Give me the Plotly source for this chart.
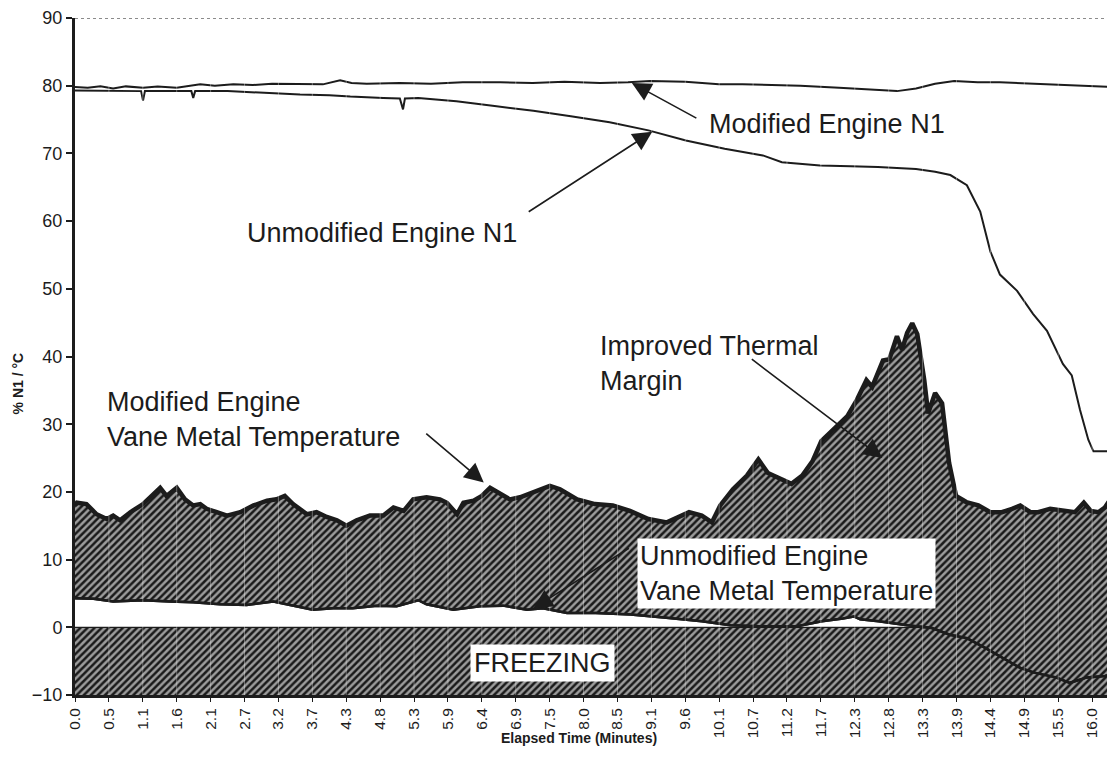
import plotly.graph_objects as go

# ---------------- data ----------------
TICK_LABELS = ["0.0", "0.5", "1.1", "1.6", "2.1", "2.7", "3.2", "3.7", "4.3", "4.8",
               "5.3", "5.9", "6.4", "6.9", "7.5", "8.0", "8.5", "9.1", "9.6", "10.1",
               "10.7", "11.2", "11.7", "12.3", "12.8", "13.3", "13.9", "14.4", "14.9",
               "15.5", "16.0"]
TICK_STEP = 16.0 / 30  # minutes between labelled categories
X_END = 16.36

TIME_MOD_N1 = [0, 0.2, 0.4, 0.6, 0.8, 1.07, 1.3, 1.6, 1.97, 2.2, 2.49, 2.8, 3.1, 3.54,
               3.9, 4.17, 4.35, 4.59, 5.11, 5.6, 6.1, 6.69, 7.2, 7.7, 8.26, 8.7, 9.05,
               9.6, 10.13, 10.5, 10.82, 11.1, 11.41, 12.02, 12.51, 12.93, 13.23, 13.53,
               13.83, 14.2, 14.55, 15.0, 15.34, 15.8, 16.36]
MOD_N1 = [79.8, 79.7, 79.9, 79.6, 79.9, 79.7, 79.9, 79.7, 80.2, 80.0, 80.2, 80.1, 80.3,
          80.3, 80.2, 80.8, 80.4, 80.3, 80.4, 80.3, 80.5, 80.5, 80.4, 80.6, 80.4, 80.5,
          80.7, 80.6, 80.2, 80.2, 80.1, 80.1, 80.0, 79.7, 79.4, 79.2, 79.6, 80.3, 80.7,
          80.5, 80.5, 80.3, 80.2, 80.0, 79.8]

TIME_UNMOD_N1 = [0, 0.5, 1.04, 1.07, 1.10, 1.5, 1.83, 1.86, 1.89, 2.4, 3.02, 3.54, 4.0,
                 4.33, 4.85, 5.11, 5.16, 5.19, 5.4, 6.0, 6.6, 7.21, 7.8, 8.41, 9.02,
                 9.61, 10.22, 10.82, 11.12, 11.72, 12.2, 12.63, 13.23, 13.53, 13.77,
                 14.03, 14.24, 14.40, 14.55, 14.82, 15.07, 15.29, 15.54, 15.68, 15.81,
                 15.94, 16.02, 16.32, 16.34]
UNMOD_N1 = [79.3, 79.2, 79.2, 77.8, 79.2, 79.2, 79.2, 78.2, 79.2, 79.2, 78.9, 78.7, 78.6,
            78.4, 78.2, 78.1, 76.5, 78.1, 78.2, 77.7, 77.0, 76.3, 75.5, 74.6, 73.4, 71.9,
            70.7, 69.7, 68.7, 68.2, 68.1, 68.0, 67.7, 67.3, 66.8, 65.3, 61.4, 55.5, 52.1,
            49.7, 46.3, 43.8, 38.9, 37.2, 32.1, 27.7, 26.0, 26.0, 18.0]

TIME_MOD_VANE = [0.0, 0.03, 0.18, 0.34, 0.50, 0.60, 0.71, 0.87, 1.07, 1.21, 1.34, 1.44,
                 1.60, 1.73, 1.86, 1.97, 2.07, 2.23, 2.39, 2.60, 2.81, 3.02, 3.17, 3.30,
                 3.43, 3.65, 3.80, 3.96, 4.12, 4.27, 4.43, 4.64, 4.85, 5.01, 5.17, 5.32,
                 5.53, 5.74, 5.85, 6.01, 6.11, 6.27, 6.40, 6.53, 6.69, 6.84, 7.00, 7.21,
                 7.47, 7.63, 7.90, 8.18, 8.46, 8.73, 9.02, 9.31, 9.66, 9.86, 10.02, 10.15,
                 10.35, 10.57, 10.75, 10.90, 11.11, 11.27, 11.44, 11.60, 11.74, 11.99,
                 12.15, 12.30, 12.45, 12.54, 12.71, 12.81, 12.93, 13.01, 13.09, 13.17,
                 13.25, 13.36, 13.42, 13.53, 13.64, 13.75, 13.86, 14.02, 14.21, 14.40,
                 14.58, 14.74, 14.87, 15.03, 15.15, 15.34, 15.54, 15.73, 15.87, 15.98,
                 16.10, 16.20, 16.36]
MOD_VANE = [18.0, 18.4, 18.2, 16.7, 16.0, 16.5, 15.8, 17.0, 18.2, 19.4, 20.6, 19.4, 20.6,
            18.9, 18.0, 18.2, 17.5, 17.0, 16.5, 17.0, 18.0, 18.7, 18.9, 19.4, 18.2, 16.7,
            17.0, 16.3, 15.8, 15.0, 15.8, 16.5, 16.5, 17.7, 17.2, 18.9, 19.2, 18.9, 18.4,
            16.7, 18.4, 18.7, 19.4, 20.6, 19.7, 18.9, 19.2, 19.9, 20.9, 20.4, 18.9, 18.2,
            18.0, 17.2, 16.0, 15.5, 17.0, 16.5, 15.5, 18.0, 20.4, 22.4, 24.8, 22.8, 21.9,
            21.2, 22.4, 24.5, 27.5, 29.7, 31.2, 33.6, 36.5, 35.5, 39.4, 39.6, 43.0, 41.0,
            43.5, 44.9, 43.3, 36.5, 31.6, 34.6, 33.1, 24.3, 19.4, 18.5, 18.0, 17.0, 17.0,
            17.5, 18.0, 17.0, 17.0, 17.5, 17.2, 17.0, 18.4, 17.2, 17.0, 17.7, 19.9]

TIME_UNMOD_VANE = [0.0, 0.29, 0.60, 1.07, 1.49, 1.86, 2.28, 2.70, 3.12, 3.43, 3.74, 4.06,
                   4.37, 4.75, 5.06, 5.40, 5.53, 5.95, 6.37, 6.73, 7.11, 7.36, 7.74, 8.19,
                   8.74, 9.30, 9.86, 10.31, 10.75, 11.36, 11.75, 12.08, 12.25, 12.35,
                   12.64, 13.09, 13.48, 13.76, 14.03, 14.31, 14.59, 14.87, 15.09, 15.43,
                   15.65, 15.92, 16.20, 16.36]
UNMOD_VANE = [4.3, 4.2, 3.8, 4.0, 3.8, 3.7, 3.4, 3.3, 3.8, 3.2, 2.6, 2.8, 2.8, 3.2, 3.1,
              4.0, 3.4, 2.6, 3.1, 3.2, 2.6, 2.8, 2.1, 2.1, 1.9, 1.4, 0.9, 0.3, 0.15, 0.15,
              0.9, 1.3, 1.6, 1.2, 0.9, 0.3, -0.1, -1.1, -1.6, -3.0, -4.5, -6.0, -6.7,
              -7.4, -8.2, -7.4, -7.2, -6.9]

FREEZE_TOP = 0
FREEZE_BOTTOM = -10

# ---------------- styling ----------------
INK = "#1c1c1c"
FONT = "Liberation Sans, Arial, sans-serif"
HATCH = dict(shape="/", bgcolor="#9c9c9c", fgcolor="#1a1a1a", size=5, solidity=0.5,
             fillmode="replace")

fig = go.Figure()

# freezing band (-10 .. 0)
fig.add_trace(go.Scatter(x=[0, X_END], y=[FREEZE_BOTTOM, FREEZE_BOTTOM], mode="lines",
                         line=dict(width=0, color=INK), hoverinfo="skip"))
fig.add_trace(go.Scatter(x=[0, X_END], y=[FREEZE_TOP, FREEZE_TOP], mode="lines",
                         line=dict(width=1.2, color=INK), fill="tonexty",
                         fillpattern=HATCH, hoverinfo="skip"))

# vane metal temperatures with hatched margin between
fig.add_trace(go.Scatter(x=TIME_UNMOD_VANE, y=UNMOD_VANE, mode="lines",
                         line=dict(width=2.5, color=INK),
                         name="Unmodified Engine Vane Metal Temperature"))
fig.add_trace(go.Scatter(x=TIME_MOD_VANE, y=MOD_VANE, mode="lines",
                         line=dict(width=4.5, color=INK), fill="tonexty",
                         fillpattern=HATCH,
                         name="Modified Engine Vane Metal Temperature"))
# redraw unmodified line on top of the fill
fig.add_trace(go.Scatter(x=TIME_UNMOD_VANE, y=UNMOD_VANE, mode="lines",
                         line=dict(width=2.5, color=INK), hoverinfo="skip"))

# N1 lines
fig.add_trace(go.Scatter(x=TIME_MOD_N1, y=MOD_N1, mode="lines",
                         line=dict(width=2, color=INK), name="Modified Engine N1"))
fig.add_trace(go.Scatter(x=TIME_UNMOD_N1, y=UNMOD_N1, mode="lines",
                         line=dict(width=2, color=INK), name="Unmodified Engine N1"))

tickvals = [i * TICK_STEP for i in range(len(TICK_LABELS))]

shapes = [dict(type="line", xref="paper", yref="y", x0=0, x1=1, y0=90, y1=90,
               line=dict(color="#666666", width=1.5, dash="dot"), layer="above")]
for tv in tickvals[1:]:
    shapes.append(dict(type="line", xref="x", yref="y", x0=tv, x1=tv, y0=-10, y1=90,
                       line=dict(color="white", width=1), opacity=0.35, layer="above"))

tfont = dict(family=FONT, size=27, color=INK)
ann = []
# arrows
arrow = dict(text="", showarrow=True, arrowhead=2, arrowsize=2.4, arrowwidth=1.6,
             arrowcolor=INK, xref="x", yref="y", standoff=0)
ann.append(dict(arrow, x=8.76, y=80.4, ax=66, ay=36))
ann.append(dict(arrow, x=9.08, y=73.2, ax=-125, ay=81))
ann.append(dict(arrow, x=12.70, y=25.0, ax=-132, ay=-100))
ann.append(dict(arrow, x=6.43, y=21.4, ax=-59, ay=-50))
ann.append(dict(arrow, x=7.21, y=2.8, ax=97, ay=-61))
# labels
ann.append(dict(text="Modified Engine N1", x=9.94, y=74.4, xref="x", yref="y",
                xanchor="left", yanchor="middle", showarrow=False, font=tfont))
ann.append(dict(text="Unmodified Engine N1", x=2.67, y=58.3, xref="x", yref="y",
                xanchor="left", yanchor="middle", showarrow=False, font=tfont))
ann.append(dict(text="Improved Thermal<br>Margin", x=8.23, y=38.9, xref="x", yref="y",
                xanchor="left", yanchor="middle", align="left", showarrow=False,
                font=tfont))
ann.append(dict(text="Modified Engine<br>Vane Metal Temperature", x=0.47, y=30.7,
                xref="x", yref="y", xanchor="left", yanchor="middle", align="left",
                showarrow=False, font=tfont))
ann.append(dict(text="Unmodified Engine<br>Vane Metal Temperature", x=8.84, y=7.9,
                xref="x", yref="y", xanchor="left", yanchor="middle", align="left",
                showarrow=False, font=tfont, bgcolor="white", borderpad=2))
ann.append(dict(text="FREEZING", x=7.35, y=-5.3, xref="x", yref="y",
                xanchor="center", yanchor="middle", showarrow=False, font=tfont,
                bgcolor="white", borderpad=3))
# axis titles
ann.append(dict(text="<b>Elapsed Time (Minutes)</b>", x=0.485, y=-0.064, xref="paper",
                yref="paper", xanchor="center", yanchor="middle", showarrow=False,
                font=dict(family=FONT, size=14, color=INK)))
ann.append(dict(text="<b>% N1 / °C</b>", x=-0.055, y=0.46, xref="paper", yref="paper",
                xanchor="center", yanchor="middle", textangle=-90, showarrow=False,
                font=dict(family=FONT, size=14, color=INK)))

fig.update_layout(
    width=1107, height=766,
    margin=dict(l=67, r=0, t=6, b=79),
    plot_bgcolor="white", paper_bgcolor="white",
    showlegend=False,
    shapes=shapes, annotations=ann,
    xaxis=dict(range=[0, X_END], tickmode="array", tickvals=tickvals,
               ticktext=TICK_LABELS, tickangle=-90,
               tickfont=dict(family=FONT, size=15.5, color=INK),
               showgrid=False, zeroline=False, showline=True, linewidth=3,
               linecolor=INK, ticks="outside", ticklen=4, tickwidth=1, tickcolor=INK),
    yaxis=dict(range=[-10, 90], tick0=0, dtick=10, ticklabeloverflow="allow",
               tickfont=dict(family=FONT, size=18, color=INK),
               showgrid=False, zeroline=False, showline=True, linewidth=3,
               linecolor=INK, ticks="outside", ticklen=6, tickwidth=1.5,
               tickcolor=INK),
)

fig.write_html("out.html")
